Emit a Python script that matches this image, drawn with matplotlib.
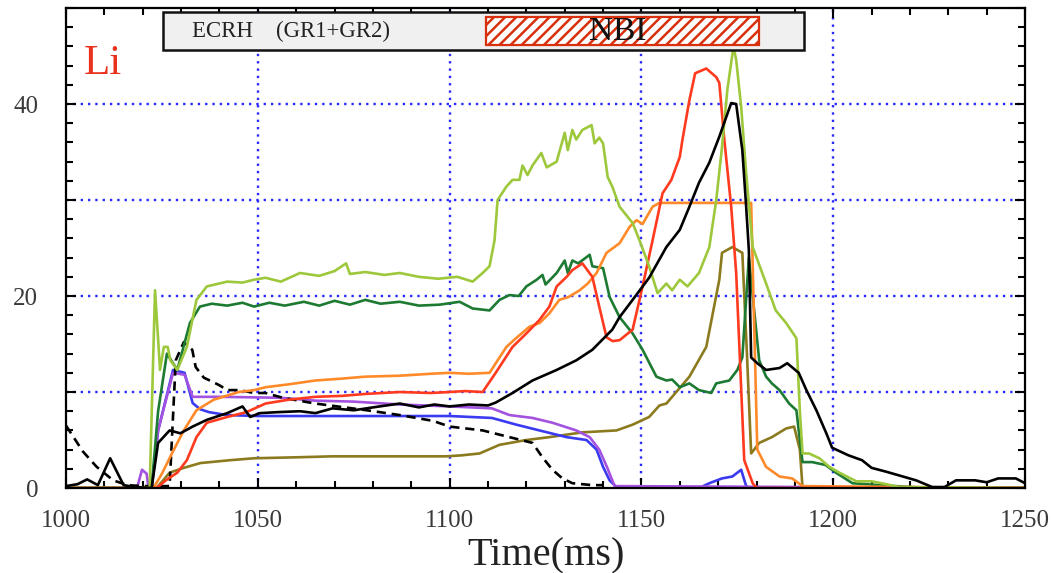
import matplotlib
matplotlib.use("Agg")
import matplotlib.pyplot as plt
from matplotlib.patches import Rectangle
from matplotlib.ticker import MultipleLocator, FuncFormatter

plt.rcParams['font.family'] = ['Liberation Serif', 'DejaVu Serif']
plt.rcParams['hatch.linewidth'] = 1.8

# ---- data ----
lg_x = [1000, 1021.8, 1023.2, 1024.5, 1025.5, 1026.5, 1027.2, 1029, 1031.5, 1034, 1036.7, 1042, 1046, 1049,
        1052, 1056, 1061, 1066, 1070, 1073, 1074, 1078, 1083, 1087, 1092, 1097, 1102, 1106, 1108.6, 1110.4,
        1111.7, 1112.5, 1114.8, 1116.4, 1118.2, 1119, 1120.3, 1121.6, 1123.9, 1125.3, 1127.9, 1130, 1130.8,
        1132, 1133, 1134.6, 1137, 1137.8, 1139, 1140, 1141.2, 1142.4, 1144.3, 1147.7, 1149.5, 1152, 1154.2,
        1156.5, 1158, 1160, 1162, 1165, 1167.7, 1169.5, 1171, 1172.4, 1174, 1174.7, 1176, 1177.3, 1179,
        1182.5, 1185, 1187.7, 1190.4, 1191.3, 1192, 1193.7, 1196.4, 1199, 1201.6, 1206, 1210, 1213.8, 1217, 1250]
lg_y = [0, 0, 20.6, 12.3, 14.7, 14.7, 13.3, 12.3, 14.7, 19.6, 21.0, 21.5, 21.4, 21.7,
        21.9, 21.5, 22.4, 22.1, 22.6, 23.4, 22.3, 22.5, 22.2, 22.4, 22.0, 21.8, 22.0, 21.5, 22.4, 23.1,
        25.8, 30.0, 31.4, 32.1, 32.1, 33.6, 32.6, 33.6, 34.9, 33.4, 34.0, 37.0, 35.2,
        37.3, 36.3, 37.3, 37.8, 35.9, 36.5, 35.9, 32.4, 31.4, 29.3, 27.6, 25.8, 23.1, 20.3,
        21.3, 20.6, 21.7, 21.0, 22.4, 25.1, 30.0, 35.5, 41.5, 46.0, 44.6, 39.7, 32.8, 25.1,
        21.3, 18.5, 17.2, 15.6, 8.0, 3.6, 3.6, 3.1, 2.2, 1.6, 0.7, 0.7, 0.4, 0.1, 0]

dg_x = [1000, 1022.3, 1024, 1026.3, 1029, 1032.3, 1034.9, 1038, 1042, 1046, 1049, 1053, 1057, 1062, 1066,
        1070, 1074, 1078, 1082, 1087, 1092, 1097.4, 1102.6, 1106, 1110.4, 1113, 1115.6, 1118, 1120, 1122.7,
        1124.2, 1125, 1127.9, 1130, 1130.8, 1132, 1133.5, 1135.2, 1136.5, 1137.2, 1140, 1141.7, 1144.3,
        1147.7, 1150.3, 1153.9, 1156.5, 1158, 1160, 1162.5, 1165, 1168.2, 1169.5, 1172.9, 1175, 1176.3,
        1178, 1180.7, 1182.5, 1184, 1186, 1188.5, 1190.4, 1191, 1192, 1194.5, 1198, 1200.7, 1205, 1212, 1225, 1250]
dg_y = [0, 0, 8.0, 14.0, 12.3, 17.2, 18.9, 19.2, 19.0, 19.3, 18.9, 19.3, 19.0, 19.4, 19.0,
        19.5, 19.1, 19.6, 19.2, 19.4, 19.0, 19.1, 19.4, 18.7, 18.5, 19.6, 20.1, 20.0, 21.0, 21.7,
        22.2, 21.2, 22.4, 23.7, 22.4, 23.7, 23.4, 23.9, 24.3, 23.1, 22.9, 19.9, 17.8,
        16.1, 14.4, 11.6, 11.2, 11.3, 10.5, 10.9, 10.2, 9.9, 10.9, 11.2, 12.3, 13.6,
        24.0, 13.3, 11.6, 10.9, 10.2, 8.8, 8.1, 6.0, 2.7, 2.7, 2.4, 1.6, 0.5, 0.3, 0, 0]

bl_x = [1000, 1022.3, 1024, 1027.9, 1030.9, 1033, 1035, 1037.3, 1042, 1050, 1070, 1090, 1100, 1111, 1117.4,
        1123.4, 1130.5, 1135.7, 1138.3, 1140, 1141.7, 1143.5, 1165, 1167.7, 1171, 1173.7, 1176, 1177.3, 1178.5, 1250]
bl_y = [0, 0, 6.0, 12.3, 12.0, 8.85, 8.2, 7.9, 7.6, 7.5, 7.5, 7.5, 7.5, 7.3, 6.6,
        6.0, 5.3, 5.0, 4.0, 2.2, 0.8, 0.1, 0, 0.5, 1.0, 1.2, 1.9, 0.2, 0, 0]

pu_x = [1000, 1018.5, 1019.8, 1021, 1021.5, 1022.3, 1024, 1027.9, 1030.9, 1033, 1040, 1056, 1065, 1075, 1087,
        1100, 1111, 1115.6, 1121.6, 1126.8, 1133, 1136.5, 1139, 1141, 1143, 1250]
pu_y = [0, 0, 1.9, 1.5, 0, 0, 6.0, 12.0, 11.8, 9.5, 9.5, 9.4, 9.1, 9.0, 8.7,
        8.5, 8.3, 7.6, 7.3, 6.8, 6.0, 5.3, 4.0, 2.2, 0.2, 0]

rd_x = [1000, 1023.6, 1026, 1029, 1031.5, 1034, 1036.7, 1042, 1047, 1052, 1058, 1065, 1072, 1078, 1087, 1095,
        1100, 1104, 1108.6, 1112, 1116.4, 1120, 1123.4, 1126, 1127.9, 1130.5, 1132, 1134.6, 1137.2, 1139,
        1140.9, 1142.5, 1144.3, 1147.7, 1150.3, 1152.9, 1155.5, 1157.8, 1160, 1160.7, 1162.5, 1164, 1166.9,
        1169.5, 1170.3, 1171.6, 1173.4, 1174.7, 1176.8, 1179, 1180, 1250]
rd_y = [0, 0, 0.8, 1.6, 2.9, 5.3, 6.8, 7.4, 7.9, 8.8, 9.2, 9.5, 9.6, 9.8, 10.0, 9.9,
        10.0, 10.1, 10.0, 12.0, 14.7, 16.1, 17.5, 18.9, 21.0, 22.0, 22.7, 23.4, 22.0, 18.9,
        15.7, 15.3, 15.4, 16.5, 21.0, 25.8, 30.7, 32.1, 34.5, 36.3, 40.4, 43.2, 43.7,
        42.8, 42.2, 36.3, 29.3, 22.4, 2.9, 0.5, 0, 0]

or_x = [1000, 1022.8, 1025, 1027.6, 1030.7, 1034, 1038.5, 1045, 1049, 1052, 1058, 1065, 1072, 1078, 1087,
        1095, 1100, 1105, 1110.4, 1114.8, 1117, 1120.8, 1123.5, 1126, 1128.6, 1131, 1133.9, 1136, 1138.3,
        1140.9, 1144.3, 1146.9, 1148.7, 1150.3, 1152.9, 1154.7, 1178.6, 1180.2, 1182.5, 1186, 1189.3, 1192, 1250]
or_y = [0, 0, 1.5, 3.6, 6.0, 8.1, 9.2, 10.0, 10.2, 10.5, 10.8, 11.2, 11.4, 11.6, 11.7,
        11.9, 12.0, 11.9, 12.0, 14.7, 15.5, 16.8, 17.2, 18.2, 19.6, 19.9, 20.6, 21.3, 22.4,
        24.5, 25.5, 27.2, 27.9, 27.5, 29.3, 29.7, 29.7, 4.0, 2.2, 1.2, 1.0, 0.2, 0]

ol_x = [1000, 1023.6, 1027, 1030.7, 1035, 1042.8, 1049, 1060, 1069.5, 1087, 1099, 1103, 1107.8, 1113, 1120,
        1126, 1134.6, 1143.5, 1147.7, 1152, 1154.7, 1156.5, 1162.5, 1166.9, 1170.3, 1171, 1173.7, 1176.3,
        1177.5, 1178.6, 1180.7, 1184, 1187.7, 1189.8, 1191.3, 1192, 1250]
ol_y = [0, 0, 1.6, 2.1, 2.6, 2.9, 3.1, 3.2, 3.3, 3.3, 3.3, 3.4, 3.6, 4.5, 5.0,
        5.3, 5.8, 6.0, 6.6, 7.4, 8.6, 8.8, 11.6, 14.7, 21.7, 24.5, 25.1, 24.5,
        14.0, 3.6, 4.7, 5.3, 6.2, 6.4, 4.0, 0, 0]

bk_x = [1000, 1003, 1005.5, 1008.3, 1011.5, 1015, 1018, 1022.3, 1024, 1027, 1029.8, 1033, 1036.7, 1042, 1046,
        1048, 1050.5, 1055, 1061, 1065, 1069.5, 1075, 1080, 1087, 1092, 1096, 1100, 1105, 1110, 1112, 1116.4,
        1121.6, 1127.9, 1133, 1137.2, 1142.4, 1144.3, 1147.7, 1152, 1156.5, 1160, 1162.5, 1165, 1167.7,
        1170.3, 1173.4, 1174.7, 1176.3, 1177.3, 1178, 1178.6, 1180.2, 1182.5, 1186, 1188, 1191, 1193,
        1195.6, 1198.2, 1199.7, 1204, 1207.5, 1210, 1213.8, 1219, 1221.6, 1225.8, 1229, 1232, 1237, 1240,
        1243, 1247.6, 1250]
bk_y = [0.2, 0.4, 0.9, 0.3, 3.1, 0.3, 0.1, 0, 4.7, 6.0, 5.7, 6.4, 7.1, 7.8, 8.5,
        7.4, 7.8, 7.9, 8.0, 7.8, 8.3, 8.1, 8.4, 8.8, 8.4, 8.7, 8.5, 8.7, 8.6, 8.9, 9.9,
        11.2, 12.3, 13.3, 14.4, 16.5, 17.8, 19.6, 21.9, 25.1, 26.9, 29.3, 31.8, 33.9,
        36.6, 40.1, 40.0, 35.2, 29.3, 24.8, 13.6, 13.0, 12.3, 12.5, 13.0, 12.0, 10.2,
        8.1, 5.7, 4.2, 3.4, 2.9, 2.1, 1.7, 1.1, 0.8, 0.1, 0.1, 0.8, 0.8, 0.6,
        1.0, 1.0, 0.5]

bd_x = [1000, 1004.4, 1008, 1012.3, 1016, 1020, 1027, 1028.6, 1030.7, 1032.9, 1033.8, 1035.9, 1038.5, 1040,
        1042, 1045.3, 1049, 1052, 1056.5, 1065, 1078.4, 1087, 1095.6, 1100, 1108.6, 1115.6, 1121.6, 1124.2,
        1126.8, 1129.4, 1132, 1137.2, 1140]
bd_y = [6.5, 3.8, 2.2, 0.8, 0.3, 0.2, 0.2, 13.3, 15.2, 14.4, 12.6, 11.5, 11.0, 10.7,
        10.2, 10.2, 9.9, 9.9, 9.4, 8.8, 8.1, 7.6, 7.0, 6.4, 6.0, 5.3, 4.7, 3.2,
        1.9, 1.0, 0.5, 0.3, 0.3]

fig = plt.figure(figsize=(10.55, 5.73), dpi=100)
ax = fig.add_axes([0.0626, 0.1483, 0.9090, 0.8377])

# grid
for gx in [1050, 1100, 1150, 1200]:
    ax.axvline(gx, color='#2a2aff', lw=1.7, ls=(0, (1, 2.1)), zorder=1)
for gy in [10, 20, 30, 40]:
    ax.axhline(gy, color='#2a2aff', lw=1.7, ls=(0, (1, 2.1)), zorder=1)

lw = 1.9
ax.plot(ol_x, ol_y, color='#8c7a1e', lw=lw, zorder=2)
ax.plot(bl_x, bl_y, color='#3a3af0', lw=lw, zorder=2)
ax.plot(pu_x, pu_y, color='#a452e0', lw=lw, zorder=2)
ax.plot(bd_x, bd_y, color='black', lw=lw, ls=(0, (3.5, 2.2)), zorder=2)
ax.plot(dg_x, dg_y, color='#1d7a32', lw=lw, zorder=2)
ax.plot(or_x, or_y, color='#ff8a2a', lw=lw, zorder=2)
ax.plot(rd_x, rd_y, color='#ff3a1e', lw=lw, zorder=2)
ax.plot(lg_x, lg_y, color='#9dc83c', lw=lw, zorder=2)
ax.plot(bk_x, bk_y, color='black', lw=lw, zorder=2)

ax.set_xlim(1000, 1250)
ax.set_ylim(0, 50)

# heating timeline box
ax.add_patch(Rectangle((1025.3, 45.6), 167.1, 4.0, facecolor='#f0f0f0', edgecolor='#111111',
                       lw=1.8, zorder=5, clip_on=False))
ax.add_patch(Rectangle((1109.4, 46.1), 71.3, 2.95, facecolor='white', edgecolor='#d8300c',
                       hatch='///', lw=1.6, zorder=6))
ax.text(1032.8, 47.6, 'ECRH    (GR1+GR2)', fontsize=16.5, color='#222222', va='center', ha='left', zorder=7)
ax.text(1143.8, 47.5, 'NBI', fontsize=24, color='#111111', va='center', ha='center', zorder=7)
ax.text(1004.6, 44.2, 'Li', fontsize=31, color='#e8321e', va='center', ha='left', zorder=7)

# ticks
ax.xaxis.set_major_locator(MultipleLocator(50))
ax.xaxis.set_minor_locator(MultipleLocator(10))
ax.yaxis.set_major_locator(MultipleLocator(10))
ax.yaxis.set_minor_locator(MultipleLocator(2))
ax.yaxis.set_major_formatter(FuncFormatter(lambda v, p: '%d' % v if v % 20 == 0 and v < 50 else ''))
ax.tick_params(which='both', direction='in', top=True, right=True, width=1.5, color='black')
ax.tick_params(which='major', length=7.5)
ax.tick_params(which='minor', length=5)
ax.tick_params(axis='x', which='major', labelsize=18, pad=16, labelcolor='#3a3a3a')
ax.tick_params(axis='y', which='major', labelsize=18, pad=20, labelcolor='#3a3a3a')

for s in ax.spines.values():
    s.set_linewidth(1.6)
    s.set_zorder(8)

ax.set_xlabel('Time(ms)', fontsize=29, color='#222222', labelpad=4)

fig.savefig('out.png', dpi=100)
